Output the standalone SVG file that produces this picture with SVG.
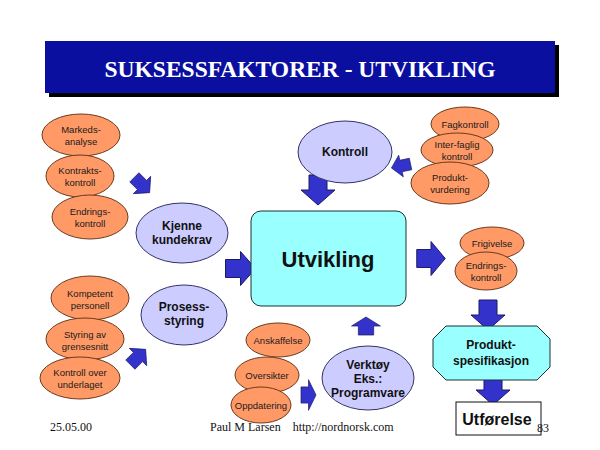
<svg xmlns="http://www.w3.org/2000/svg" width="600" height="450" viewBox="0 0 600 450">
<defs>
<style>
.or{fill:#ff9966;stroke:#6b3a1f;stroke-width:1}
.lv{fill:#ccccff;stroke:#333366;stroke-width:1}
.cy{fill:#99ffff;stroke:#1a3333;stroke-width:1}
.ot{font-family:"Liberation Sans",Arial,sans-serif;font-size:9.5px;fill:#1a1a1a;text-anchor:middle}
.lt{font-family:"Liberation Sans",Arial,sans-serif;font-size:12px;font-weight:bold;fill:#111;text-anchor:middle}
.ft{font-family:"Liberation Serif","Times New Roman",serif;font-size:12px;fill:#111}
.ar{fill:#3333cc;stroke:#1a1a66;stroke-width:1}
</style>
<path id="arr" d="M-15,-9 L0,-9 L0,-17 L15,0 L0,17 L0,9 L-15,9 Z"/>
</defs>
<rect width="600" height="450" fill="#ffffff"/>
<g id="title">
<rect x="49" y="45" width="510" height="52" fill="#000000"/>
<rect x="45" y="41" width="510" height="52" fill="#0a0fa0"/>
<text x="300" y="77" text-anchor="middle" font-family="Liberation Serif,'Times New Roman',serif" font-size="23.5" font-weight="bold" fill="#ffffff">SUKSESSFAKTORER - UTVIKLING</text>
</g>
<g id="connectors">
<use href="#arr" class="ar" transform="translate(142,185) rotate(45) scale(0.72)"/>
<use href="#arr" class="ar" transform="translate(138,357) rotate(-45) scale(0.72)"/>
<use href="#arr" class="ar" transform="translate(240.5,268.5)"/>
<use href="#arr" class="ar" transform="translate(318,190) rotate(90)"/>
<use href="#arr" class="ar" transform="translate(401,166) rotate(168) scale(0.65)"/>
<use href="#arr" class="ar" transform="translate(431,258.5) scale(0.95,1)"/>
<use href="#arr" class="ar" transform="translate(488,315) rotate(90)"/>
<use href="#arr" class="ar" transform="translate(493,390) rotate(90)"/>
<use href="#arr" class="ar" transform="translate(308.5,395) scale(0.5,0.9)"/>
<use href="#arr" class="ar" transform="translate(366,326) rotate(-90) scale(0.6,0.85)"/>
</g>
<g id="markedsanalyse"><ellipse class="or" cx="81" cy="135" rx="39" ry="21"/><text class="ot" x="81" y="133">Markeds-</text><text class="ot" x="81" y="145">analyse</text></g>
<g id="kontraktskontroll"><ellipse class="or" cx="80" cy="176" rx="34" ry="21"/><text class="ot" x="80" y="174">Kontrakts-</text><text class="ot" x="80" y="186">kontroll</text></g>
<g id="endringskontroll1"><ellipse class="or" cx="90" cy="217" rx="38" ry="22"/><text class="ot" x="90" y="215">Endrings-</text><text class="ot" x="90" y="227">kontroll</text></g>
<g id="kjenne"><ellipse class="lv" cx="182" cy="233" rx="46" ry="30"/><text class="lt" x="182" y="230">Kjenne</text><text class="lt" x="182" y="244">kundekrav</text></g>
<g id="kompetent"><ellipse class="or" cx="90" cy="298" rx="39" ry="22"/><text class="ot" x="90" y="297">Kompetent</text><text class="ot" x="90" y="309">personell</text></g>
<g id="styring"><ellipse class="or" cx="85" cy="339" rx="39" ry="21"/><text class="ot" x="85" y="338">Styring av</text><text class="ot" x="85" y="350">grensesnitt</text></g>
<g id="kontrollover"><ellipse class="or" cx="80" cy="378" rx="40" ry="21"/><text class="ot" x="80" y="376">Kontroll over</text><text class="ot" x="80" y="388">underlaget</text></g>
<g id="prosess"><ellipse class="lv" cx="184" cy="315" rx="43" ry="30"/><text class="lt" x="184" y="311">Prosess-</text><text class="lt" x="184" y="325">styring</text></g>
<g id="utvikling"><rect class="cy" x="251" y="211" width="155" height="95" rx="10"/><text x="328" y="267" text-anchor="middle" font-family="Liberation Sans,Arial,sans-serif" font-size="22" font-weight="bold" fill="#111">Utvikling</text></g>
<g id="kontroll"><ellipse class="lv" cx="345" cy="152" rx="47" ry="31"/><text class="lt" x="345" y="156">Kontroll</text></g>
<g id="fagkontroll"><ellipse class="or" cx="465" cy="124" rx="34" ry="17"/><text class="ot" x="465" y="128">Fagkontroll</text></g>
<g id="interfaglig"><ellipse class="or" cx="457" cy="150" rx="36" ry="17"/><text class="ot" x="457" y="148">Inter-faglig</text><text class="ot" x="457" y="160">kontroll</text></g>
<g id="produktvurdering"><ellipse class="or" cx="450" cy="183" rx="39" ry="21"/><text class="ot" x="450" y="181">Produkt-</text><text class="ot" x="450" y="193">vurdering</text></g>
<g id="frigivelse"><ellipse class="or" cx="492" cy="243" rx="32" ry="16"/><text class="ot" x="492" y="247">Frigivelse</text></g>
<g id="endringskontroll2"><ellipse class="or" cx="486" cy="271" rx="31" ry="19"/><text class="ot" x="486" y="269">Endrings-</text><text class="ot" x="486" y="281">kontroll</text></g>
<g id="produktspesifikasjon"><path class="cy" d="M446,326 L537,326 L550,339 L550,367 L537,380 L446,380 L433,367 L433,339 Z"/><text class="lt" x="491" y="349">Produkt-</text><text class="lt" x="491" y="365">spesifikasjon</text></g>
<g id="utforelse"><rect x="456" y="402" width="85" height="33" fill="#ffffff" stroke="#111" stroke-width="1"/><text x="497" y="425" text-anchor="middle" font-family="Liberation Sans,Arial,sans-serif" font-size="16" font-weight="bold" fill="#111">Utførelse</text></g>
<g id="anskaffelse"><ellipse class="or" cx="278" cy="340" rx="32" ry="17"/><text class="ot" x="278" y="344">Anskaffelse</text></g>
<g id="oversikter"><ellipse class="or" cx="267" cy="375" rx="32" ry="18"/><text class="ot" x="267" y="379">Oversikter</text></g>
<g id="oppdatering"><ellipse class="or" cx="261" cy="405" rx="30" ry="18"/><text class="ot" x="261" y="409">Oppdatering</text></g>
<g id="verktoy"><ellipse class="lv" cx="368" cy="378" rx="46" ry="32"/><text class="lt" x="368" y="369">Verktøy</text><text class="lt" x="368" y="383">Eks.:</text><text class="lt" x="368" y="397">Programvare</text></g>
<g id="footer">
<text class="ft" x="50" y="431">25.05.00</text>
<text class="ft" x="210" y="431" xml:space="preserve">Paul M Larsen    http://nordnorsk.com</text>
<text class="ft" x="537" y="432">83</text>
</g>
</svg>
